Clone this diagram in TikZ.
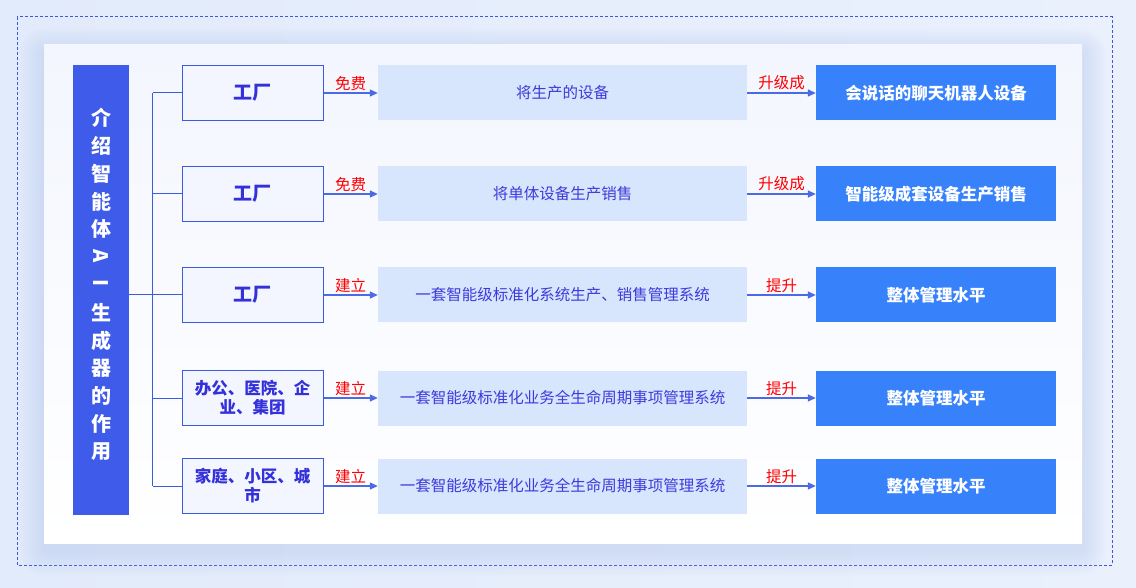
\documentclass[tikz,border=0pt]{standalone}
\usepackage{fontspec}
\setmainfont{Noto Sans CJK SC}
\usetikzlibrary{arrows.meta}
\definecolor{cBack}{HTML}{E2EBFB}
\definecolor{clBack}{HTML}{EAF1FD}
\definecolor{cPanel}{HTML}{F3F6FE}
\definecolor{cShade}{HTML}{9DB2E6}
\definecolor{cDash}{HTML}{4456D8}
\definecolor{cBar}{HTML}{3E5BE9}
\definecolor{cLine}{HTML}{3B5BE0}
\definecolor{cDeep}{HTML}{3430DA}
\definecolor{cMid}{HTML}{D7E5FD}
\definecolor{cMidText}{HTML}{3F3ADA}
\definecolor{cDst}{HTML}{3782FB}
\definecolor{cArrow}{HTML}{4A6AE6}
\newcommand\facfont{\fontsize{19}{22}\selectfont}
\tikzset{>={Triangle[length=8pt,width=7pt]}}

\begin{document}
\begin{tikzpicture}[x=1pt, y=-1pt,
	srcbox/.style={draw=cLine, line width=1pt, fill=cPanel, minimum width=141pt, minimum height=55pt, text width=125pt, align=center, inner sep=0pt, text=cDeep, font=\fontsize{16.5}{19}\selectfont\bfseries},
	midbox/.style={fill=cMid, minimum width=369pt, minimum height=55pt, inner sep=0pt, text=cMidText, font=\fontsize{15.5}{18}\selectfont},
	dstbox/.style={fill=cDst, minimum width=240pt, minimum height=55pt, inner sep=0pt, text=white, font=\fontsize{16.5}{19}\selectfont\bfseries},
	flow/.style={->, draw=cArrow, line width=1.4pt},
	tag/.style={above=1pt, text=red, inner sep=1pt, font=\fontsize{15.5}{18}\selectfont},
	tree/.style={draw=cLine, line width=1pt}]
		\useasboundingbox (0,0) rectangle (1136,588);
		%background and frame
		\shade [left color=cBack, right color=clBack] (0,0) rectangle (1136,588);
		\draw [draw=cDash, line width=1pt, dash pattern=on 3pt off 2pt] (17,17) rectangle (1112,565);
		%panel with soft shadow
		\foreach \s in {3,6,...,24}
		{
			\fill [cShade, opacity=0.035, rounded corners=\s pt] (44-\s,45-\s+8) rectangle (1082+\s,543+\s+8);
		}
		\shade [top color=cPanel, bottom color=white] (44,45) rectangle (1082,543);
		
		%title bar
		\node [fill=cBar, minimum width=56pt, minimum height=450pt, inner sep=0pt] (title) at (101,290) {};
		\foreach \c [count=\k] in {介,绍,智,能,体,{\rotatebox[origin=c]{-90}{A}},{\rotatebox[origin=c]{-90}{I}},生,成,器,的,作,用}
		{
			\node [text=white, inner sep=0pt, font=\fontsize{20}{22}\selectfont\bfseries] (t\k) at (101,{118+(\k-1)*27.8}) {\c};
		}
		
		%rows
		\foreach \i/\y/\src/\tagA/\mid/\tagB/\dst in {
			1/93/{\facfont 工厂}/免费/将生产的设备/升级成/会说话的聊天机器人设备,
			2/194/{\facfont 工厂}/免费/将单体设备生产销售/升级成/智能级成套设备生产销售,
			3/295/{\facfont 工厂}/建立/一套智能级标准化系统生产、销售管理系统/提升/整体管理水平,
			4/398/{办公、医院、企\\业、集团}/建立/一套智能级标准化业务全生命周期事项管理系统/提升/整体管理水平,
			5/486/{家庭、小区、城\\市}/建立/一套智能级标准化业务全生命周期事项管理系统/提升/整体管理水平}
		{
			\node [srcbox] (s\i) at (252.5,\y) {\src};
			\node [midbox] (m\i) at (562.5,\y) {\mid};
			\node [dstbox] (d\i) at (936,\y) {\dst};
			\draw [flow] (s\i) -- (m\i) node [tag, midway] {\tagA};
			\draw [flow] (m\i) -- (d\i) node [tag, midway] {\tagB};
			\draw [tree] (s\i.west) -- ++(-29,0);
		}
		
		%trunk
		\draw [tree] ([xshift=-29pt]s1.west) -- ([xshift=-29pt]s5.west);
		\draw [tree] (title.east |- s3.west) -- (s3.west);
		
\end{tikzpicture}
\end{document}
